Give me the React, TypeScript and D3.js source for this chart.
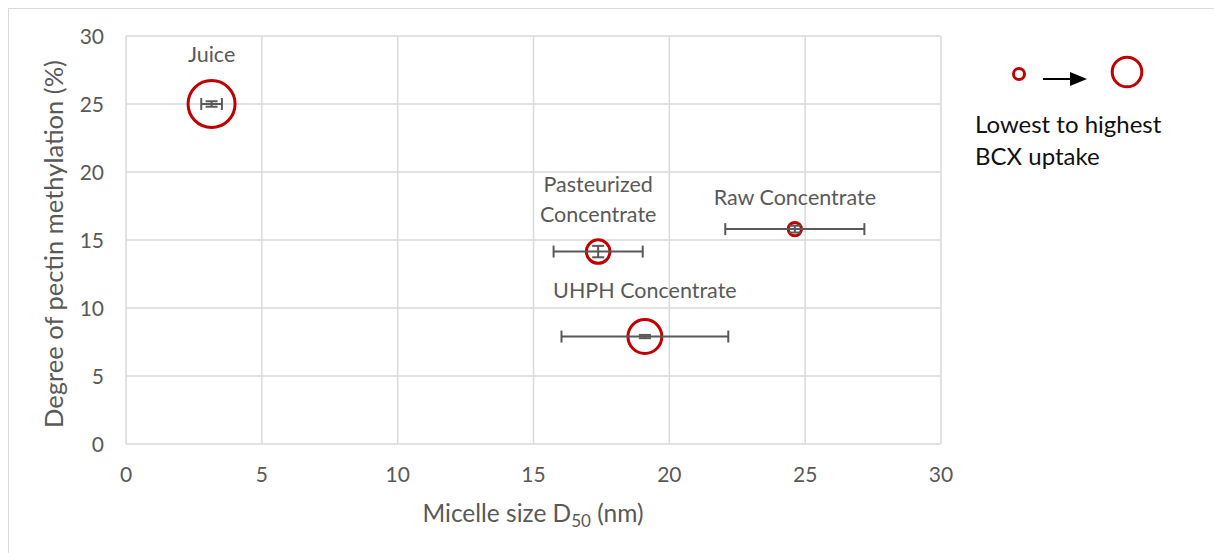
import React from 'react'
import * as d3 from 'd3'

// samples and values
const samples = ['Juice', 'Pasteurized Concentrate', 'Raw Concentrate', 'UHPH Concentrate']
const micelleSize = [3.15, 17.38, 24.62, 19.1]
const micelleErr = [0.38, 1.64, 2.56, 3.07]
const methylation = [25.0, 14.15, 15.8, 7.9]
const methylationErr = [0.2, 0.42, 0.25, 0.12]
const bcxUptake = [100, 25, 8, 52]

const xTicks = [0, 5, 10, 15, 20, 25, 30]
const yTicks = [0, 5, 10, 15, 20, 25, 30]

// label placement relative to the point (px)
const labelLines = [['Juice'], ['Pasteurized', 'Concentrate'], ['Raw Concentrate'], ['UHPH Concentrate']]
const labelDy = [-42, -60, -24, -39]

const W = 1214
const H = 553
const left = 126
const right = 941
const top = 36
const bottom = 444

const font = 'Lato, "Open Sans", sans-serif'
const textCol = '#595959'
const gridCol = '#d9d9d9'
const red = '#c00000'

export default function App() {
    const x = d3.scaleLinear().domain([0, 30]).range([left, right])
    const y = d3.scaleLinear().domain([0, 30]).range([bottom, top])
    const r = d3.scaleSqrt().domain([0, d3.max(bcxUptake)]).range([0, 23.5])

    return (
        <svg width={W} height={H} style={{ position: 'absolute', left: 0, top: 0 }} fontFamily={font}>
            <rect x={0} y={0} width={W} height={H} fill="#fff" />
            <rect x={8.5} y={8.5} width={W + 20} height={H + 20} fill="none" stroke={gridCol} />

            {xTicks.map((t) => (
                <line key={'gx' + t} x1={x(t)} x2={x(t)} y1={top} y2={bottom} stroke={gridCol} strokeWidth={1.5} />
            ))}
            {yTicks.map((t) => (
                <line key={'gy' + t} x1={left} x2={right} y1={y(t)} y2={y(t)} stroke={gridCol} strokeWidth={1.5} />
            ))}

            {xTicks.map((t) => (
                <text key={'tx' + t} x={x(t)} y={482} textAnchor="middle" fontSize={21} fill={textCol}>{t}</text>
            ))}
            {yTicks.map((t) => (
                <text key={'ty' + t} x={104} y={y(t)} dy="0.36em" textAnchor="end" fontSize={21} fill={textCol}>{t}</text>
            ))}

            <text x={533} y={522} textAnchor="middle" fontSize={24.5} fill={textCol}>
                Micelle size D<tspan fontSize={17} dy={5}>50</tspan><tspan dy={-5}> (nm)</tspan>
            </text>
            <text transform={`translate(63,244) rotate(-90)`} textAnchor="middle" fontSize={25.5} fill={textCol}>
                Degree of pectin methylation (%)
            </text>

            {samples.map((s, i) => {
                const cx = x(micelleSize[i])
                const cy = y(methylation[i])
                const x0 = x(micelleSize[i] - micelleErr[i])
                const x1 = x(micelleSize[i] + micelleErr[i])
                const y0 = y(methylation[i] - methylationErr[i])
                const y1 = y(methylation[i] + methylationErr[i])
                return (
                    <g key={s}>
                        <circle cx={cx} cy={cy} r={r(bcxUptake[i])} fill="none" stroke={red} strokeWidth={3} />
                        <g stroke={textCol} strokeWidth={2}>
                            <line x1={x0} x2={x1} y1={cy} y2={cy} />
                            <line x1={x0} x2={x0} y1={cy - 6} y2={cy + 6} />
                            <line x1={x1} x2={x1} y1={cy - 6} y2={cy + 6} />
                            <line x1={cx} x2={cx} y1={y0} y2={y1} />
                            <line x1={cx - 6} x2={cx + 6} y1={y0} y2={y0} />
                            <line x1={cx - 6} x2={cx + 6} y1={y1} y2={y1} />
                        </g>
                        {labelLines[i].map((ln, j) => (
                            <text key={ln} x={cx} y={cy + labelDy[i] + j * 30} textAnchor="middle" fontSize={21.5} fill={textCol}>{ln}</text>
                        ))}
                    </g>
                )
            })}

            {/* size legend */}
            <circle cx={1019} cy={74} r={5.5} fill="none" stroke={red} strokeWidth={3} />
            <line x1={1043} x2={1072} y1={79} y2={79} stroke="#000" strokeWidth={2} />
            <path d="M1070,72 L1087,79 L1070,86 Z" fill="#000" />
            <circle cx={1127} cy={72} r={14.8} fill="none" stroke={red} strokeWidth={3} />
            <text x={975} y={133} fontSize={24} fill="#111">Lowest to highest</text>
            <text x={975} y={165} fontSize={24} fill="#111">BCX uptake</text>
        </svg>
    )
}
